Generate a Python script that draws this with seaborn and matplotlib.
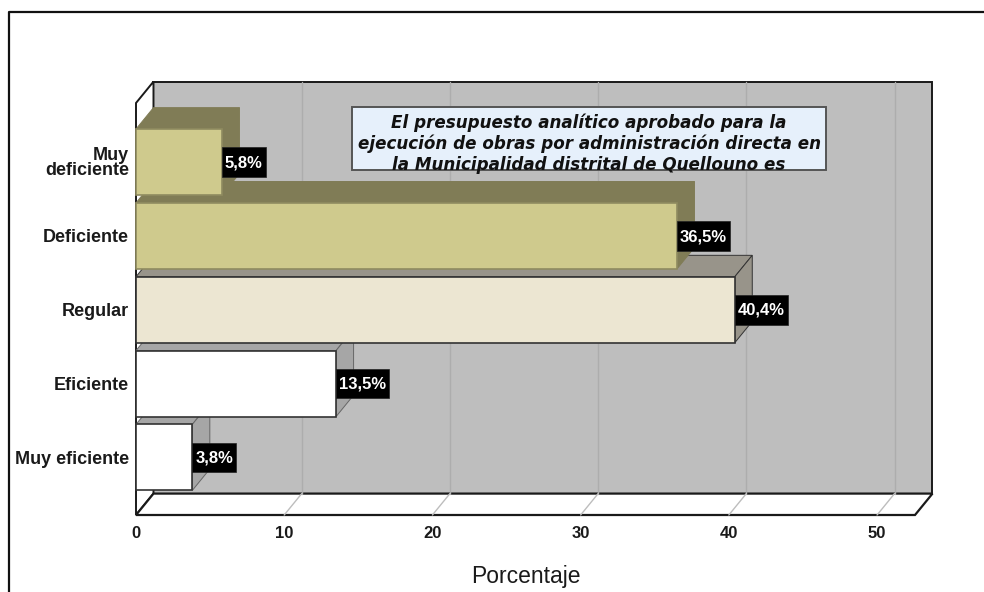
# %%
# Import packages
import pandas as pd
import seaborn as sns
import matplotlib.pyplot as plt
from matplotlib.lines import Line2D
from matplotlib.patches import Polygon, Rectangle

# %%
# Values
categorias = ['Muy\ndeficiente', 'Deficiente', 'Regular', 'Eficiente', 'Muy eficiente']
porcentajes = [5.8, 36.5, 40.4, 13.5, 3.8]
etiquetas = ['5,8%', '36,5%', '40,4%', '13,5%', '3,8%']
colores = ['#CFCA8D', '#CFCA8D', '#ECE6D2', '#FFFFFF', '#FFFFFF']
colores_lado = ['#807C56', '#807C56', '#98948A', '#A6A6A6', '#A6A6A6']
bordes = ['#8F8B60', '#8F8B60', '#333333', '#333333', '#333333']
bordes_lado = ['#807C56', '#807C56', '#333333', '#666666', '#666666']
marcas_x = [0, 10, 20, 30, 40, 50]
nota = ('El presupuesto analítico aprobado para la\n'
        'ejecución de obras por administración directa en\n'
        'la Municipalidad distrital de Quellouno es')

# %%
# Layout of the pseudo 3D box
W, H = 984, 592
XMAX, YTOP, YBOT = 52.56, -0.8, 4.78
DX, DY = 1.18, 0.29
ALTO_ETIQUETA = 0.40

sns.set_theme(style='white')
plt.rcParams['font.family'] = ['Liberation Sans', 'DejaVu Sans']

fig = plt.figure(figsize=(W / 100, H / 100), dpi=100)
ax = fig.add_axes([136 / W, (H - 515) / H, 779 / W, 412 / H])

df = pd.DataFrame({'categoria': categorias, 'porcentaje': porcentajes})
sns.barplot(data=df, y='categoria', x='porcentaje', hue='categoria', palette=colores,
            width=0.894, legend=False, saturation=1, ax=ax)
ax.set_xlim(0, XMAX)
ax.set_ylim(YBOT, YTOP)
sns.despine(ax=ax, left=True, bottom=True)
ax.patch.set_alpha(0)

# %%
# Back wall, left wall and floor
def caja(puntos, color, edge='none', lw=1.0, z=1):
    ax.add_patch(Polygon(puntos, closed=True, facecolor=color, edgecolor=edge, linewidth=lw,
                         zorder=z, clip_on=False, joinstyle='miter'))

caja([(DX, YTOP - DY), (XMAX + DX, YTOP - DY), (XMAX + DX, YBOT - DY), (DX, YBOT - DY)], '#BEBEBE', '#1A1A1A', 1.4)
caja([(0, YTOP), (DX, YTOP - DY), (DX, YBOT - DY), (0, YBOT)], '#FFFFFF', '#1A1A1A', 1.4)
caja([(0, YBOT), (DX, YBOT - DY), (XMAX + DX, YBOT - DY), (XMAX, YBOT)], '#FFFFFF', '#1A1A1A', 1.6)

for m in marcas_x[1:]:
    ax.plot([m + DX, m + DX], [YTOP - DY, YBOT - DY], color='#ADADAD', lw=1, zorder=1.5, clip_on=False)
    ax.plot([m, m + DX], [YBOT, YBOT - DY], color='#BDBDBD', lw=1, zorder=1.5, clip_on=False)

# %%
# Extrude each seaborn bar, the upper bars sit in front of the lower ones
renderer = fig.canvas.get_renderer()
n = len(categorias)
for i, cont in enumerate(ax.containers):
    bar = cont[0]
    x1 = bar.get_width()
    y0, y1 = bar.get_y(), bar.get_y() + bar.get_height()
    z = 3 + (n - i)
    caja([(0, y0), (DX, y0 - DY), (x1 + DX, y0 - DY), (x1, y0)], colores_lado[i], bordes_lado[i], 0.7, z)
    caja([(x1, y0), (x1 + DX, y0 - DY), (x1 + DX, y1 - DY), (x1, y1)], colores_lado[i], bordes_lado[i], 0.7, z)
    bar.set_zorder(z + 0.5)
    bar.set_edgecolor(bordes[i])
    bar.set_linewidth(1.2)
    bar.set_clip_on(False)

    # value label, black box as wide as the text but taller than it
    t = ax.text(x1 + 0.2, i + 0.01, etiquetas[i], color='white', fontsize=12, fontweight='bold',
                ha='left', va='center', zorder=11)
    ext = t.get_window_extent(renderer).transformed(ax.transData.inverted())
    ax.add_patch(Rectangle((x1, i - ALTO_ETIQUETA / 2), ext.x1 + 0.2 - x1, ALTO_ETIQUETA, facecolor='black',
                           edgecolor='#222222', linewidth=0.5, zorder=10, clip_on=False))

# %%
# Axis text
ax.set_xticks(marcas_x)
ax.set_xticklabels(marcas_x, fontsize=12, fontweight='bold', color='#1A1A1A')
ax.set_yticks(range(n))
ax.set_yticklabels(categorias, fontsize=13, fontweight='bold', color='#1A1A1A', linespacing=0.85)
ax.tick_params(axis='x', length=0, pad=8)
ax.tick_params(axis='y', length=0, pad=5)
ax.set_xlabel('Porcentaje', fontsize=16.5, labelpad=17, color='#1A1A1A')
ax.set_ylabel('')

# %%
# Note box, the third line is cut by the box as in the original
caja_nota = Rectangle((352 / W, (H - 170) / H), 474 / W, 63 / H, transform=fig.transFigure, facecolor='#E6F0FB',
                      edgecolor='#555555', linewidth=1.4, zorder=12, clip_on=False)
ax.add_patch(caja_nota)
recorte = Rectangle((352 / W, (H - 168) / H), 474 / W, 61 / H, transform=fig.transFigure)
for k, linea in enumerate(nota.split('\n')):
    t = ax.text(589 / W, (H - (128 + 21 * k)) / H, linea, transform=fig.transFigure, ha='center', va='baseline',
                fontsize=12.1, fontweight='bold', fontstyle='italic', family='DejaVu Sans', color='#111111', zorder=13)
    t.set_clip_path(recorte)

# %%
# Outer frame, only top and left are visible in the crop
fig.add_artist(Line2D([9 / W, 9 / W, 1], [0, (H - 12) / H, (H - 12) / H], color='#111111', lw=1.6))

fig.savefig('out.png', dpi=100)
